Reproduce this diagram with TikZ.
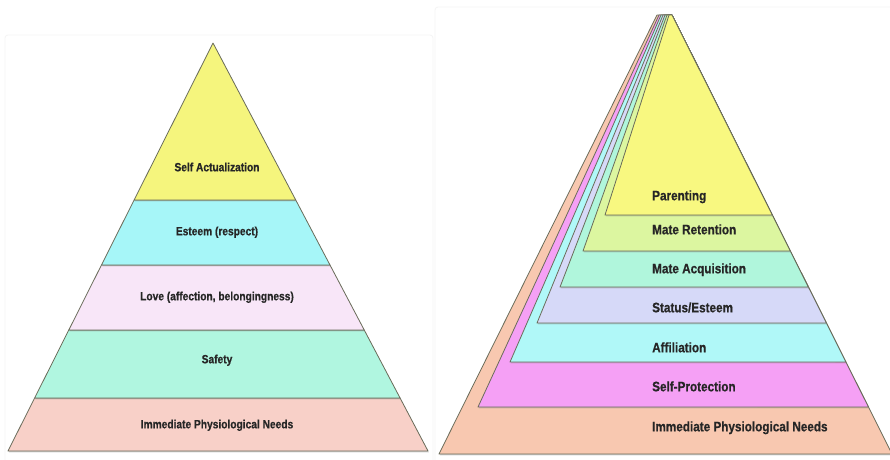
\documentclass[tikz,border=0pt]{standalone}
\usepackage{fontspec}
\setmainfont{Liberation Sans}[FakeStretch=0.85]
\newfontfamily\labelfont{Liberation Sans Bold}[FakeStretch=0.85, FakeBold=0.6]
\usetikzlibrary{calc,shadows}
\definecolor{lyellow}{HTML}{F5F57D}
\definecolor{lcyan}{HTML}{A6F6F8}
\definecolor{llove}{HTML}{F8E6F8}
\definecolor{lmint}{HTML}{B0F6E0}
\definecolor{lpeach}{HTML}{F8D0C8}
\definecolor{ryellow}{HTML}{F8F880}
\definecolor{rgreen}{HTML}{DCF6A0}
\definecolor{rmint}{HTML}{B0F6DC}
\definecolor{rlav}{HTML}{D6D9F8}
\definecolor{rcyan}{HTML}{B0F8F8}
\definecolor{rmag}{HTML}{F5A0F5}
\definecolor{rpeach}{HTML}{F8C8B0}
\definecolor{edge}{HTML}{6A6C5A}
\tikzset{
  band/.style={draw=edge, line width=0.8pt, line join=round, fill=#1,
    drop shadow={shadow xshift=0.8pt, shadow yshift=-1.3pt, opacity=0.35}},
  framebox/.style={draw=black!4, line width=0.8pt, rounded corners=3pt},
  llabel/.style={font=\fontsize{12}{14}\labelfont, text=black!85,
    inner sep=0pt, text height=1.5ex, text depth=.25ex},
  rlabel/.style={font=\fontsize{13.8}{16}\labelfont, text=black!85,
    inner sep=0pt, text height=1.5ex, text depth=.25ex, anchor=west}
}
\begin{document}
\begin{tikzpicture}[x=1pt,y=-1pt]
\useasboundingbox (0,0) rectangle (890,459);
\fill[white] (0,0) rectangle (890,459);
% faint frames of the two pictures
\draw[framebox] (5,470) -- (5,35) -- (433,35) -- (433,470);
\draw[framebox] (435,470) -- (435,7) -- (900,7);

% ---------- left pyramid ----------
\coordinate (LA) at (213,43);
\coordinate (LL) at (8,451);
\coordinate (LR) at (428,451);
\foreach \n/\t in {1/0.3848, 2/0.5441, 3/0.7034, 4/0.8701}{
  \coordinate (Ll\n) at ($(LA)!\t!(LL)$);
  \coordinate (Lr\n) at ($(LA)!\t!(LR)$);
}
\draw[band=lpeach] (Ll4) -- (Lr4) -- (LR) -- (LL) -- cycle;
\draw[band=lmint]  (Ll3) -- (Lr3) -- (Lr4) -- (Ll4) -- cycle;
\draw[band=llove]  (Ll2) -- (Lr2) -- (Lr3) -- (Ll3) -- cycle;
\draw[band=lcyan]  (Ll1) -- (Lr1) -- (Lr2) -- (Ll2) -- cycle;
\draw[band=lyellow] (LA) -- (Lr1) -- (Ll1) -- cycle;

\node[llabel] (l5) at (217,168) {Self Actualization};
\node[llabel] (l4) at (217,232) {Esteem (respect)};
\node[llabel] (l3) at (217,297) {Love (affection, belongingness)};
\node[llabel] (l2) at (217,360) {Safety};
\node[llabel] (l1) at (217,425) {Immediate Physiological Needs};

% ---------- right pyramid ----------
\coordinate (RT) at (672,15);
\coordinate (RB) at (892,454);
\begin{scope}
\clip (0,0) rectangle (890,459);
\foreach \col/\ax/\bl/\by/\t in {
  rpeach/657/439/454/1,
  rmag/659/478/407/0.8929,
  rcyan/661/510/362/0.7904,
  rlav/663/537/323/0.7016,
  rmint/665/560/287/0.6196,
  rgreen/667/583/251/0.5376,
  ryellow/669/605/215/0.4556}{
  \draw[band=\col] (\ax,15) -- (RT) -- ($(RT)!\t!(RB)$) -- (\bl,\by) -- cycle;
}
\end{scope}

\node[rlabel] (r7) at (652,197) {Parenting};
\node[rlabel] (r6) at (652,231) {Mate Retention};
\node[rlabel] (r5) at (652,270) {Mate Acquisition};
\node[rlabel] (r4) at (652,309) {Status/Esteem};
\node[rlabel] (r3) at (652,349) {Affiliation};
\node[rlabel] (r2) at (652,388) {Self-Protection};
\node[rlabel] (r1) at (652,428) {Immediate Physiological Needs};
\end{tikzpicture}
\end{document}
